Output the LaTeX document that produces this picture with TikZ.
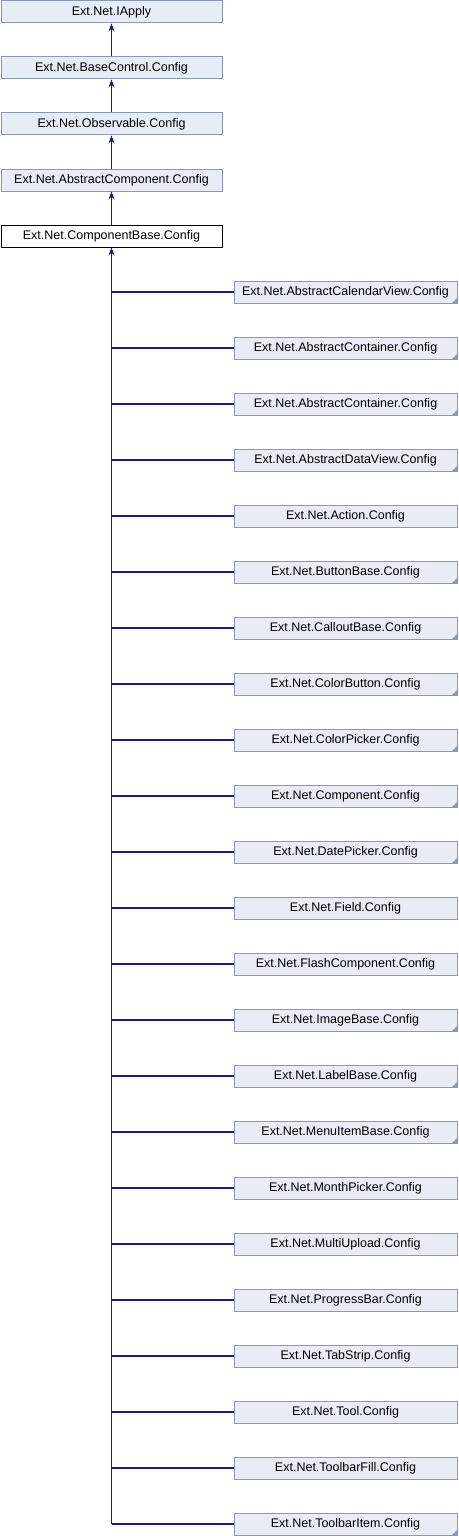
\documentclass[tikz,border=0pt]{standalone}
\usepackage{fontspec}
\setmainfont{Liberation Sans}
\usepackage{tikz}
\usetikzlibrary{arrows.meta}

\definecolor{boxfill}{HTML}{E8ECF5}
\definecolor{boxline}{HTML}{8498C8}
\definecolor{edgeblue}{HTML}{191991}

\tikzset{
    cls/.style={draw=boxline,fill=boxfill,line width=1pt,minimum width=221pt,minimum height=22pt,inner sep=0pt,font=\fontsize{12.5}{14}\selectfont},
    sub/.style={cls,minimum width=223pt},
    this/.style={cls,draw=black,fill=white},
    edge/.style={draw=edgeblue,line width=1.1pt},
    inh/.style={edge,-{Stealth[length=8pt,width=6pt]}}
}

\begin{document}
\begin{tikzpicture}[x=1pt,y=-1pt]
        \useasboundingbox (0,0) rectangle (458,1536);
        % base chain
        \node [cls] (ia) at(111.5,12) {Ext.Net.IApply};
        \node [cls] (bc) at(111.5,68) {Ext.Net.BaseControl.Config};
        \node [cls] (ob) at(111.5,124) {Ext.Net.Observable.Config};
        \node [cls] (ac) at(111.5,180) {Ext.Net.AbstractComponent.Config};
        \node [this] (cb) at(111.5,236) {Ext.Net.ComponentBase.Config};
        \draw [inh] (bc) -- (ia);
        \draw [inh] (ob) -- (bc);
        \draw [inh] (ac) -- (ob);
        \draw [inh] (cb) -- (ac);

        % derived classes
        \foreach \cname/\fold [count=\i] in {
            AbstractCalendarView/1,AbstractContainer/1,AbstractContainer/1,AbstractDataView/1,
            Action/0,ButtonBase/1,CalloutBase/1,ColorButton/1,ColorPicker/1,Component/1,
            DatePicker/1,Field/0,FlashComponent/0,ImageBase/1,LabelBase/1,MenuItemBase/1,
            MonthPicker/0,MultiUpload/0,ProgressBar/0,TabStrip/0,Tool/0,ToolbarFill/0,ToolbarItem/1}
        {
            \node [sub] (c\i) at(345.5,{292+56*(\i-1)}) {Ext.Net.\cname.Config};
            \draw [edge] (cb.south |- c\i.west) -- (c\i.west);
            \ifnum\fold=1
                \fill [boxline] (c\i.south east) -- ++(-6,0) -- ++(6,-6) -- cycle;
            \fi
        }
        \coordinate (tr) at(cb.south |- c23.west);
        \draw [inh] (tr) -- (cb);
\end{tikzpicture}
\end{document}
